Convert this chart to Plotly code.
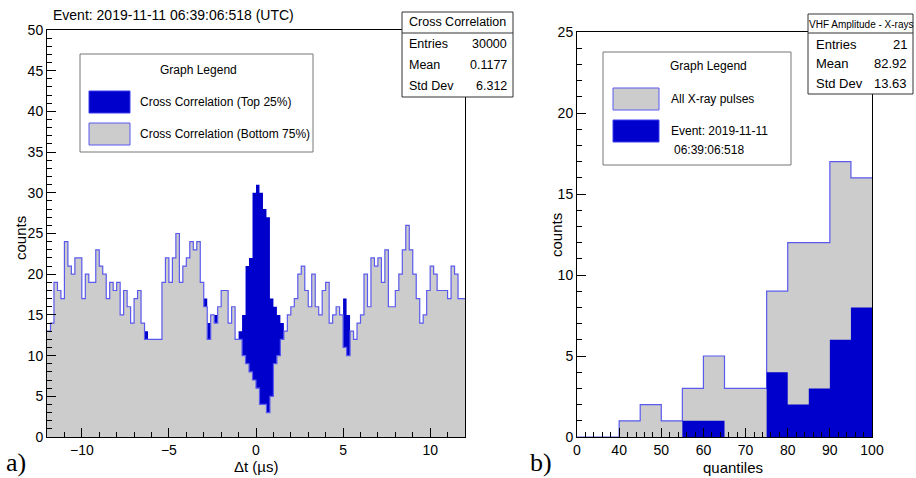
import plotly.graph_objects as go

# ---------------- data ----------------
# left panel: cross-correlation histogram, 120 bins of 0.2 us from -12 to 12
dt_min, dt_width = -12.0, 0.2
bottom75 = [13, 14, 19, 18, 17, 24, 21, 20, 22, 22, 17, 20, 19, 19, 23, 21, 20, 17, 19, 18,
            19, 15, 18, 16, 14, 17, 18, 14, 12, 12, 12, 12, 12, 19, 22, 19, 22, 25, 19, 21,
            22, 24, 23, 24, 19, 16, 12, 15, 14, 16, 18, 18, 14, 16, 12, 12, 10, 9, 8, 7,
            6, 4, 4, 3, 5, 9, 10, 12, 13, 15, 16, 17, 20, 21, 18, 16, 20, 16, 15, 18,
            19, 14, 15, 16, 15, 11, 10, 13, 12, 14, 15, 20, 16, 22, 21, 22, 19, 23, 16, 16,
            18, 20, 23, 26, 23, 20, 17, 14, 15, 18, 21, 20, 18, 18, 18, 17, 21, 20, 17, 17]
top25 = [0, 0, 0, 0, 0, 0, 0, 0, 0, 0, 0, 0, 0, 0, 0, 0, 0, 0, 0, 0,
         0, 0, 0, 0, 0, 0, 0, 0, 1, 0, 0, 0, 0, 0, 0, 0, 0, 0, 0, 0,
         0, 0, 0, 0, 0, 1, 2, 0, 1, 0, 0, 0, 0, 0, 0, 1, 5, 12, 14, 23,
         25, 26, 24, 24, 12, 7, 5, 2, 0, 0, 0, 0, 0, 0, 0, 0, 0, 0, 0, 0,
         0, 0, 0, 0, 0, 6, 5, 0, 0, 0, 0, 0, 0, 0, 0, 0, 0, 0, 0, 0,
         0, 0, 0, 0, 0, 0, 0, 0, 0, 0, 0, 0, 0, 0, 0, 0, 0, 0, 0, 0]
left_stats = [("Entries", "30000"), ("Mean", "0.1177"), ("Std Dev", "6.312")]

# right panel: quantile histogram, bins of 5 from 30 to 100
q_edges = [30, 35, 40, 45, 50, 55, 60, 65, 70, 75, 80, 85, 90, 95, 100]
all_xray = [0, 0, 1, 2, 1, 3, 5, 3, 3, 9, 12, 12, 17, 16]
event = [0, 0, 0, 0, 0, 1, 1, 0, 0, 4, 2, 3, 6, 8]
right_stats = [("Entries", "21"), ("Mean", "82.92"), ("Std Dev", "13.63")]
q_tickvals = [30, 40, 50, 60, 70, 80, 90, 100]
q_ticktext = ["0", "40", "50", "60", "70", "80", "90", "100"]

# ---------------- styling ----------------
W, H = 916, 478
GRAY = "#cccccc"
BLUE = "#0000cc"
OUTLINE = "#5a5aee"
FONT = "Liberation Sans, Arial, sans-serif"


def px(x):
    return x / W


def py(y):
    return 1 - y / H


def steps(edges, vals):
    return list(edges), list(vals) + [vals[-1]]


dt_edges = [dt_min + i * dt_width for i in range(len(bottom75) + 1)]
total = [b + t for b, t in zip(bottom75, top25)]

fig = go.Figure()

xs, ys = steps(dt_edges, bottom75)
fig.add_trace(go.Scatter(x=xs, y=ys, mode="lines", line=dict(shape="hv", color=OUTLINE, width=1.2),
                         fill="tozeroy", fillcolor=GRAY, xaxis="x", yaxis="y", showlegend=False))
xs2, ys2 = steps(dt_edges, total)
fig.add_trace(go.Scatter(x=xs2, y=ys2, mode="lines", line=dict(shape="hv", color=BLUE, width=0),
                         fill="tonexty", fillcolor=BLUE, xaxis="x", yaxis="y", showlegend=False))

xr, yr = steps(q_edges, all_xray)
fig.add_trace(go.Scatter(x=xr, y=yr, mode="lines", line=dict(shape="hv", color=OUTLINE, width=1.2),
                         fill="tozeroy", fillcolor=GRAY, xaxis="x2", yaxis="y2", showlegend=False))
xb, yb = steps(q_edges, event)
fig.add_trace(go.Scatter(x=xb, y=yb, mode="lines", line=dict(shape="hv", color=BLUE, width=0),
                         fill="tozeroy", fillcolor=BLUE, xaxis="x2", yaxis="y2", showlegend=False))

axis_common = dict(showline=True, linecolor="black", linewidth=1, mirror=True, ticks="inside",
                   tickcolor="black", showgrid=False, zeroline=False, automargin=False,
                   tickfont=dict(family=FONT, size=14, color="black"))

fig.update_layout(
    width=W, height=H, margin=dict(l=0, r=0, t=0, b=0, autoexpand=False),
    paper_bgcolor="white", plot_bgcolor="white",
    xaxis=dict(domain=[px(47), px(465)], range=[-12, 12], anchor="y",
               tickvals=[-10, -5, 0, 5, 10], ticklen=9,
               minor=dict(dtick=1, ticklen=5, ticks="inside", tickcolor="black"), **axis_common),
    yaxis=dict(domain=[py(437), py(30)], range=[0, 50], anchor="x", dtick=5, ticklen=9,
               minor=dict(dtick=1, ticklen=5, ticks="inside", tickcolor="black"), **axis_common),
    xaxis2=dict(domain=[px(577), px(872)], range=[30, 100], anchor="y2",
                tickvals=q_tickvals, ticktext=q_ticktext, ticklen=9,
                minor=dict(dtick=2, ticklen=5, ticks="inside", tickcolor="black"), **axis_common),
    yaxis2=dict(domain=[py(437), py(32)], range=[0, 25], anchor="x2", dtick=5, ticklen=9,
                minor=dict(dtick=1, ticklen=5, ticks="inside", tickcolor="black"), **axis_common),
)

shapes = []
ann = []


def rect(x0, y0, x1, y1, fill, line, lw=1):
    shapes.append(dict(type="rect", xref="paper", yref="paper", x0=px(x0), x1=px(x1),
                       y0=py(y1), y1=py(y0), fillcolor=fill, line=dict(color=line, width=lw),
                       layer="above"))


def hline(x0, x1, y, color):
    shapes.append(dict(type="line", xref="paper", yref="paper", x0=px(x0), x1=px(x1),
                       y0=py(y), y1=py(y), line=dict(color=color, width=1), layer="above"))


def text(x, y, s, size=12, anchor="left", angle=0, family=FONT):
    ann.append(dict(xref="paper", yref="paper", x=px(x), y=py(y), text=s, showarrow=False,
                    xanchor=anchor, yanchor="middle", textangle=angle,
                    font=dict(family=family, size=size, color="black")))


# titles and axis labels
text(51, 15, "Event: 2019-11-11 06:39:06:518 (UTC)", size=14)
text(20, 238, "counts", size=15, anchor="center", angle=-90)
text(256, 466, "Δt (µs)", size=15, anchor="center")
text(556, 235, "counts", size=15, anchor="center", angle=-90)
text(733, 467, "quantiles", size=15, anchor="center")
text(4, 462, "a)", size=26, family="Liberation Serif, DejaVu Serif, serif")
text(528, 462, "b)", size=26, family="Liberation Serif, DejaVu Serif, serif")

# left legend
rect(80, 54, 313, 152, "white", "#777777")
text(198, 70, "Graph Legend", size=12, anchor="center")
rect(89, 91, 130, 113, BLUE, "#3c3cee")
text(138, 102, "Cross Correlation (Top 25%)", size=12)
rect(89, 123, 130, 145, GRAY, OUTLINE)
text(138, 134, "Cross Correlation (Bottom 75%)", size=12)

# left stats box
rect(402, 12, 513, 97, "white", "#333333")
hline(402, 513, 33, "#333333")
text(457, 22, "Cross Correlation", size=12.5, anchor="center")
for k, (lab, val) in enumerate(left_stats):
    yy = 44 + 21 * k
    text(407, yy, lab, size=12.5)
    text(509, yy, val, size=12.5, anchor="right")

# right legend
rect(603, 52, 791, 165, "white", "#777777")
text(708, 66, "Graph Legend", size=12, anchor="center")
rect(613, 88, 659, 110, GRAY, OUTLINE)
text(669, 99, "All X-ray pulses", size=12)
rect(613, 120, 659, 142, BLUE, "#3c3cee")
text(669, 131, "Event: 2019-11-11", size=12)
text(672, 150, "06:39:06:518", size=12)

# right stats box
rect(808, 14, 913, 94, "white", "#333333")
hline(808, 913, 33, "#333333")
text(861, 24, "VHF Amplitude - X-rays", size=10, anchor="center")
for k, (lab, val) in enumerate(right_stats):
    yy = 44 + 19.5 * k
    text(814, yy, lab, size=13)
    text(909, yy, val, size=13, anchor="right")

fig.update_layout(shapes=shapes, annotations=ann)
fig.write_html("out.html")
